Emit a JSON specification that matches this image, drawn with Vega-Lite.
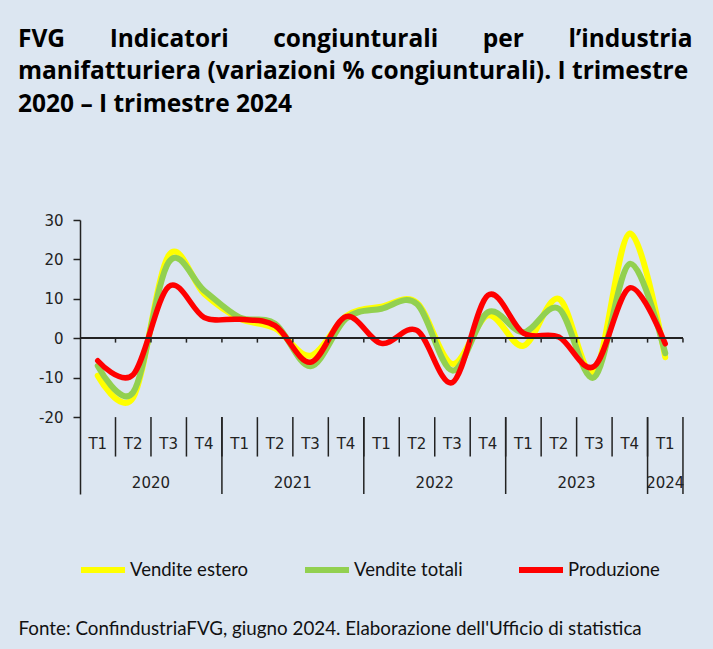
{
  "$schema": "https://vega.github.io/schema/vega-lite/v6.json",
  "autosize": "none",
  "width": 603,
  "height": 274,
  "padding": {"left": 80, "top": 220, "right": 30, "bottom": 155},
  "background": "#dce6f1",
  "title": {
    "text": ["FVG\u00a0\u00a0\u00a0\u00a0\u00a0\u00a0\u00a0Indicatori\u00a0\u00a0\u00a0\u00a0\u00a0\u00a0\u00a0congiunturali\u00a0\u00a0\u00a0\u00a0\u00a0\u00a0\u00a0per\u00a0\u00a0\u00a0\u00a0\u00a0\u00a0\u00a0l’industria", "manifatturiera (variazioni % congiunturali). I trimestre", "2020 – I trimestre 2024"],
    "anchor": "start",
    "frame": "group",
    "font": "Open Sans",
    "fontSize": 24.5,
    "fontWeight": "bold",
    "color": "#000000",
    "lineHeight": 32.5,
    "offset": 96,
    "dx": -62
  },
  "config": {"view": {"stroke": null}},
  "data": {
    "values": [
      {"i": 0, "year": "2020", "q": "T1", "Vendite estero": -9.5, "Vendite totali": -7.0, "Produzione": -5.7},
      {"i": 1, "year": "2020", "q": "T2", "Vendite estero": -15.0, "Vendite totali": -13.7, "Produzione": -9.2},
      {"i": 2, "year": "2020", "q": "T3", "Vendite estero": 21.0, "Vendite totali": 19.3, "Produzione": 13.1},
      {"i": 3, "year": "2020", "q": "T4", "Vendite estero": 11.3, "Vendite totali": 12.1, "Produzione": 5.3},
      {"i": 4, "year": "2021", "q": "T1", "Vendite estero": 5.0, "Vendite totali": 5.3, "Produzione": 4.8},
      {"i": 5, "year": "2021", "q": "T2", "Vendite estero": 2.5, "Vendite totali": 3.7, "Produzione": 3.2},
      {"i": 6, "year": "2021", "q": "T3", "Vendite estero": -4.4, "Vendite totali": -7.1, "Produzione": -6.1},
      {"i": 7, "year": "2021", "q": "T4", "Vendite estero": 5.6, "Vendite totali": 5.0, "Produzione": 5.5},
      {"i": 8, "year": "2022", "q": "T1", "Vendite estero": 8.0, "Vendite totali": 7.5, "Produzione": -1.3},
      {"i": 9, "year": "2022", "q": "T2", "Vendite estero": 9.0, "Vendite totali": 8.7, "Produzione": 2.0},
      {"i": 10, "year": "2022", "q": "T3", "Vendite estero": -6.5, "Vendite totali": -8.2, "Produzione": -11.2},
      {"i": 11, "year": "2022", "q": "T4", "Vendite estero": 5.8, "Vendite totali": 6.6, "Produzione": 10.9},
      {"i": 12, "year": "2023", "q": "T1", "Vendite estero": -1.9, "Vendite totali": 1.5, "Produzione": 1.3},
      {"i": 13, "year": "2023", "q": "T2", "Vendite estero": 10.0, "Vendite totali": 7.5, "Produzione": 0.3},
      {"i": 14, "year": "2023", "q": "T3", "Vendite estero": -8.6, "Vendite totali": -9.9, "Produzione": -7.1},
      {"i": 15, "year": "2023", "q": "T4", "Vendite estero": 26.6, "Vendite totali": 18.9, "Produzione": 12.8},
      {"i": 16, "year": "2024", "q": "T1", "Vendite estero": -4.8, "Vendite totali": -3.8, "Produzione": -1.4}
    ]
  },
  "layer": [
    {
      "transform": [
        {"fold": ["Vendite estero", "Vendite totali", "Produzione"], "as": ["series", "value"]},
        {"filter": "datum.series == 'Vendite estero'"}
      ],
      "mark": {"type": "line", "interpolate": "cardinal", "strokeWidth": 6, "strokeCap": "round", "strokeJoin": "round"},
      "encoding": {
        "x": {
          "field": "i", "type": "quantitative",
          "scale": {"domain": [-0.5, 16.5], "nice": false, "zero": false},
          "axis": {
            "title": "Fonte: ConfindustriaFVG, giugno 2024. Elaborazione dell'Ufficio di statistica",
            "domain": false, "ticks": false, "labels": false, "grid": false,
            "titleAnchor": "start", "titleAlign": "left", "titleX": -62, "titleY": 134,
            "titleBaseline": "middle", "titleFont": "Lato", "titleFontSize": 18.8,
            "titleFontWeight": "normal", "titleColor": "#111111"
          }
        },
        "y": {
          "field": "value", "type": "quantitative",
          "scale": {"domain": [-39.5, 30], "nice": false, "zero": false},
          "axis": {
            "values": [-20, -10, 0, 10, 20, 30], "title": null, "grid": false,
            "tickSize": 7, "tickColor": "#222222", "tickWidth": 1.5,
            "domainColor": "#222222", "domainWidth": 1.5,
            "labelFont": "DejaVu Sans", "labelFontSize": 15, "labelPadding": 10, "labelColor": "#222222",
            "labelExpr": "datum.value < 0 ? '-' + abs(datum.value) : '' + datum.value"
          }
        },
        "color": {
          "field": "series", "type": "nominal",
          "scale": {"domain": ["Vendite estero", "Vendite totali", "Produzione"], "range": ["#ffff00", "#92d050", "#ff0000"]},
          "legend": {
            "orient": "none", "legendX": -2, "legendY": 325, "direction": "horizontal", "title": null,
            "symbolType": "stroke", "symbolSize": 1936, "symbolStrokeWidth": 6,
            "labelFont": "Lato", "labelFontSize": 18.5, "labelColor": "#111111",
            "columnPadding": 44, "labelOffset": 2
          }
        }
      }
    },
    {
      "transform": [
        {"fold": ["Vendite estero", "Vendite totali", "Produzione"], "as": ["series", "value"]},
        {"filter": "datum.series == 'Vendite totali'"}
      ],
      "mark": {"type": "line", "interpolate": "cardinal", "strokeWidth": 6, "strokeCap": "round", "strokeJoin": "round"},
      "encoding": {
        "x": {"field": "i", "type": "quantitative"},
        "y": {"field": "value", "type": "quantitative"},
        "color": {"field": "series", "type": "nominal"}
      }
    },
    {
      "transform": [
        {"fold": ["Vendite estero", "Vendite totali", "Produzione"], "as": ["series", "value"]},
        {"filter": "datum.series == 'Produzione'"}
      ],
      "mark": {"type": "line", "interpolate": "cardinal", "strokeWidth": 5.5, "strokeCap": "round", "strokeJoin": "round"},
      "encoding": {
        "x": {"field": "i", "type": "quantitative"},
        "y": {"field": "value", "type": "quantitative"},
        "color": {"field": "series", "type": "nominal"}
      }
    },
    {
      "mark": {"type": "rule", "color": "#222222", "strokeWidth": 1.5},
      "encoding": {"y": {"datum": 0}}
    },
    {
      "transform": [{"filter": "datum.i >= 1"}],
      "mark": {"type": "rule", "color": "#222222", "strokeWidth": 1.5},
      "encoding": {
        "x": {"field": "i", "type": "quantitative"},
        "xOffset": {"value": -17.7},
        "y": {"datum": 0},
        "y2": {"datum": -1.1}
      }
    },
    {
      "transform": [{"filter": "datum.i == 16"}],
      "mark": {"type": "rule", "color": "#222222", "strokeWidth": 1.5},
      "encoding": {
        "x": {"field": "i", "type": "quantitative"},
        "xOffset": {"value": 17.7},
        "y": {"datum": 0},
        "y2": {"datum": -1.1}
      }
    },
    {
      "transform": [{"filter": "datum.i >= 1"}],
      "mark": {"type": "rule", "color": "#222222", "strokeWidth": 1.5},
      "encoding": {
        "x": {"field": "i", "type": "quantitative"},
        "xOffset": {"value": -17.7},
        "y": {"datum": -20},
        "y2": {"datum": -30}
      }
    },
    {
      "transform": [{"filter": "datum.i >= 1 && datum.q == 'T1'"}],
      "mark": {"type": "rule", "color": "#222222", "strokeWidth": 1.5},
      "encoding": {
        "x": {"field": "i", "type": "quantitative"},
        "xOffset": {"value": -17.7},
        "y": {"datum": -20},
        "y2": {"datum": -39.5}
      }
    },
    {
      "transform": [{"filter": "datum.i == 16"}],
      "mark": {"type": "rule", "color": "#222222", "strokeWidth": 1.5},
      "encoding": {
        "x": {"field": "i", "type": "quantitative"},
        "xOffset": {"value": 17.7},
        "y": {"datum": -20},
        "y2": {"datum": -39.5}
      }
    },
    {
      "mark": {"type": "text", "font": "DejaVu Sans", "fontSize": 15, "color": "#222222", "baseline": "middle", "align": "center"},
      "encoding": {
        "x": {"field": "i", "type": "quantitative"},
        "y": {"datum": -26.7},
        "text": {"field": "q"}
      }
    },
    {
      "transform": [{"aggregate": [{"op": "mean", "field": "i", "as": "center"}], "groupby": ["year"]}],
      "mark": {"type": "text", "font": "DejaVu Sans", "fontSize": 15, "color": "#222222", "baseline": "middle", "align": "center"},
      "encoding": {
        "x": {"field": "center", "type": "quantitative"},
        "y": {"datum": -36.6},
        "text": {"field": "year"}
      }
    }
  ]
}
